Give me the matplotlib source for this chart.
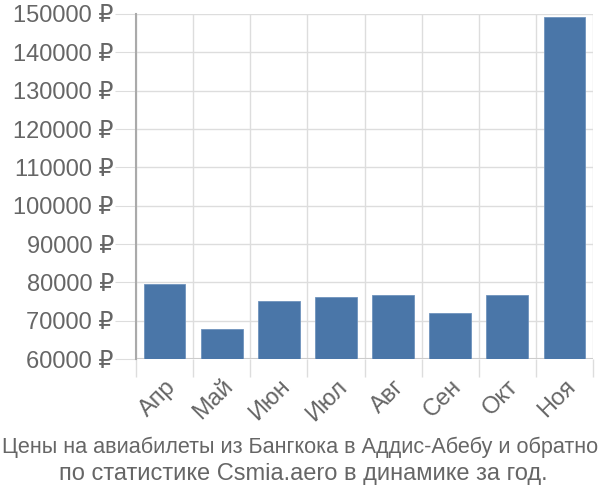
import matplotlib
matplotlib.use('Agg')
import matplotlib.pyplot as plt
import numpy as np

plt.rcParams['font.family'] = ['Liberation Sans', 'DejaVu Sans']

months = ['Апр', 'Май', 'Июн', 'Июл', 'Авг', 'Сен', 'Окт', 'Ноя']
prices = [79600, 67700, 75100, 76300, 76700, 72000, 76700, 149200]
yticks = [60000, 70000, 80000, 90000, 100000, 110000, 120000, 130000, 140000, 150000]

text_col = '#666666'
grid_col = '#dddddd'

fig = plt.figure(figsize=(6, 5), dpi=100)
ax = fig.add_axes([136 / 600, 1 - 359 / 500, 457 / 600, 345 / 500])

x = np.arange(len(months))
ax.bar(x, [p - yticks[0] for p in prices], bottom=yticks[0], width=0.73,
       color='#4a76a8', edgecolor='#6f93bd', linewidth=0.6, zorder=3)

ax.set_xlim(-0.5, len(months) - 0.5)
ax.set_ylim(yticks[0], yticks[-1])

ax.set_yticks(yticks)
ax.set_yticklabels(['{} ₽'.format(v) for v in yticks])
ax.tick_params(axis='y', length=15, color=grid_col, labelsize=17, labelcolor=text_col, pad=1)
ax.yaxis.grid(True, color=grid_col, linewidth=1, zorder=0)

ax.set_xticks(x)
ax.set_xticklabels(months, rotation=45, ha='right', rotation_mode='anchor')
ax.tick_params(axis='x', which='major', length=0, labelsize=17, labelcolor=text_col, pad=12)
ax.set_xticks(np.arange(len(months) + 1) - 0.5, minor=True)
ax.tick_params(axis='x', which='minor', length=13, color=grid_col, width=1)
ax.xaxis.grid(True, which='minor', color=grid_col, linewidth=1, zorder=0)

for s in ['top', 'right', 'bottom']:
    ax.spines[s].set_visible(False)
ax.spines['left'].set_color('#aaaaaa')
ax.spines['left'].set_linewidth(1.5)
ax.axhline(yticks[0], color='#cccccc', linewidth=1.5, zorder=2)

# первая строка в оригинале сжата по ширине, поэтому шрифт чуть меньше
fig.text(0.5, 1 - 447 / 500, 'Цены на авиабилеты из Бангкока в Аддис-Абебу и обратно',
         ha='center', va='center', fontsize=15.6, color=text_col)
fig.text(0.505, 1 - 474 / 500, 'по статистике Csmia.aero в динамике за год.',
         ha='center', va='center', fontsize=17, color=text_col)

fig.savefig('out.png', dpi=100)
